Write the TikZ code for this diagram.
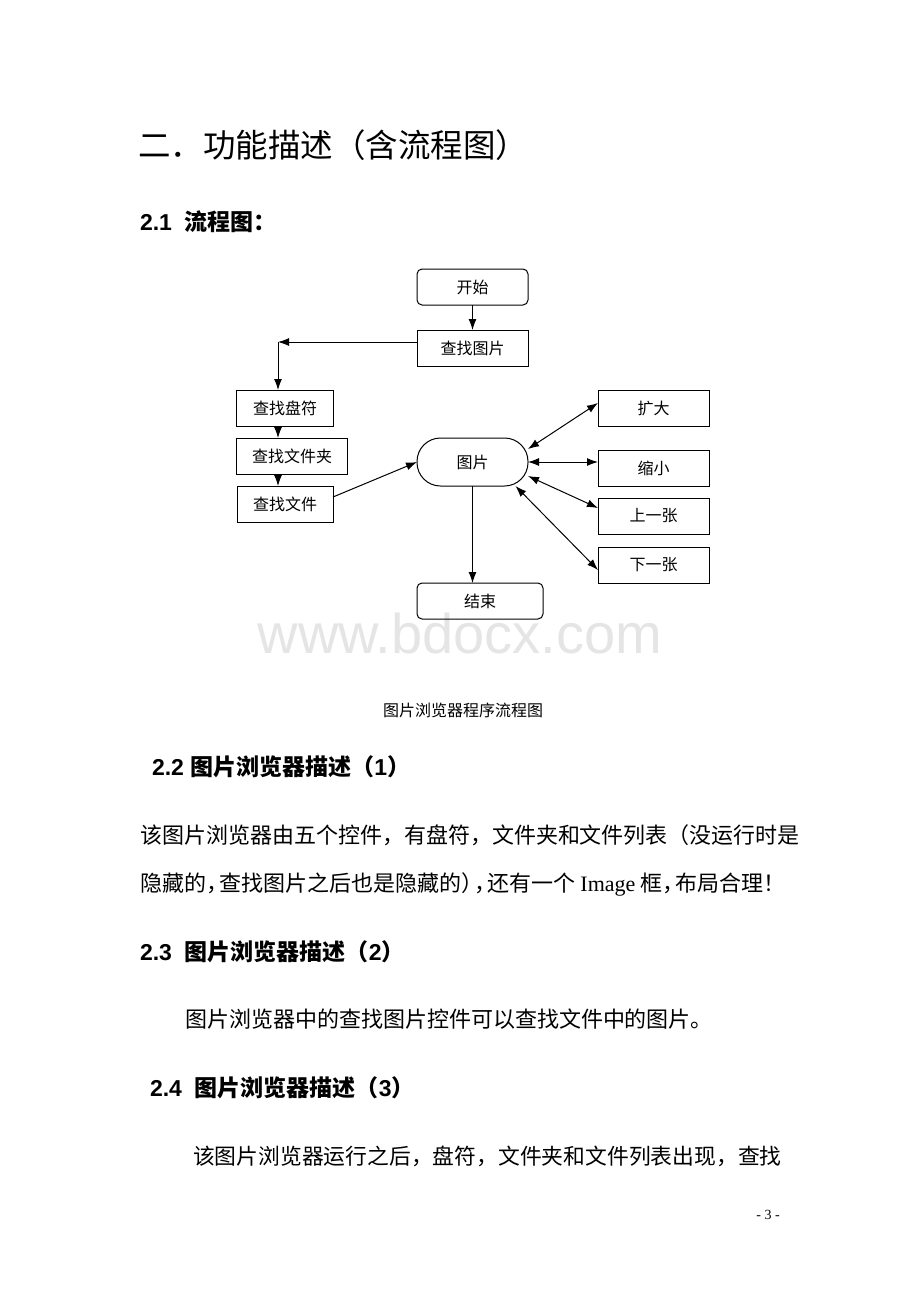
\documentclass[tikz,border=0pt]{standalone}
\usepackage{fontspec}
\setmainfont{Liberation Serif}
\setsansfont{Liberation Sans}
\newfontfamily\cjk{Noto Sans CJK SC}
\usetikzlibrary{arrows.meta}

\newcommand\fs[1]{\fontsize{#1}{#1}\selectfont}

\begin{document}
\begin{tikzpicture}[x=1pt, y=-1pt,
    every node/.style={inner sep=0pt, outer sep=0pt},
    blk/.style={draw, line width=1pt, minimum height=36pt, font=\cjk\fs{16pt}},
    rblk/.style={blk, rounded corners=5pt},
    arr/.style={line width=1pt, -{Latex[length=11pt,width=8pt]}},
    darr/.style={line width=1pt, {Latex[length=11pt,width=8pt]}-{Latex[length=11pt,width=8pt]}},
    txt/.style={anchor=west, font=\cjk\fs{22pt}},
    hd/.style={anchor=west, font=\bfseries\fs{23pt}}]
	\useasboundingbox (0,0) rectangle (920,1302);

	% watermark
	\node[font=\sffamily\fs{56pt}, text=black!10] (mark) at (460,633) {www.bdocx.com};

	\node[anchor=west, font=\cjk\fs{32.5pt}] (title) at (138,145) {二．功能描述（含流程图）};
	\node[hd] (h1) at (140,222) {\sffamily 2.1\ \ \cjk 流程图：};

	% flow chart
	\node[rblk, minimum width=111pt] (start) at (472.5,287) {开始};
	\node[blk, minimum width=111pt] (find) at (472.5,348) {查找图片};

	\node[blk, minimum width=97pt] (drive) at (285,408) {查找盘符};
	\node[blk, minimum width=111pt] (folder) at (292,456) {查找文件夹};
	\node[blk, minimum width=96pt] (file) at (285,504) {查找文件};

	\node[blk, rounded corners=23.5pt, minimum width=111pt, minimum height=48pt] (pic) at (472.5,462) {图片};

	\node[blk, minimum width=111pt] (zoomin) at (653.5,408) {扩大};
	\node[blk, minimum width=111pt] (zoomout) at (653.5,468) {缩小};
	\node[blk, minimum width=111pt] (prev) at (653.5,516) {上一张};
	\node[blk, minimum width=111pt] (next) at (653.5,565) {下一张};

	\node[rblk, minimum width=126pt] (stop) at (480,601) {结束};

	\draw[arr] (start) -- (find);
	\coordinate (bend) at (278,342);
	\draw[arr] ([yshift=6pt]find.west) -- (bend);
	\draw[arr] (bend) -- (bend |- drive.north);
	\draw[arr] (bend |- drive.south) -- (bend |- folder.north);
	\draw[arr] (bend |- folder.south) -- (bend |- file.north);
	\draw[arr] ([yshift=7pt]file.east) -- (pic.west);
	\draw[arr] (pic.south) -- (pic.south |- stop.north);

	\draw[darr] ([yshift=13pt]pic.east) -- ([yshift=5pt]zoomin.west);
	\draw[darr] (pic.east) -- (pic.east -| zoomout.west);
	\draw[darr] ([yshift=-14pt]pic.east) -- ([yshift=8pt]prev.west);
	\draw[darr] ([xshift=43pt]pic.south) -- ([yshift=-5pt]next.west);

	\node[font=\cjk\fs{16pt}] (cap) at (463,710) {图片浏览器程序流程图};

	% text
	\node[hd] (h2) at (152,767) {\sffamily 2.2 \cjk 图片浏览器描述（\sffamily 1\cjk ）};
	\node[txt] (p1) at (140,835) {该图片浏览器由五个控件，有盘符，文件夹和文件列表（没运行时是};
	\node[txt] (p2) at (140,884) {隐藏的，\kern-9pt 查找图片之后也是隐藏的）\kern-9pt ，\kern-9pt 还有一个\rmfamily\ Image \cjk 框，\kern-9pt 布局合理！};

	\node[hd] (h3) at (140,952) {\sffamily 2.3\ \ \cjk 图片浏览器描述（\sffamily 2\cjk ）};
	\node[txt] (p3) at (185,1019) {图片浏览器中的查找图片控件可以查找文件中的图片。};

	\node[hd] (h4) at (150,1088) {\sffamily 2.4\ \ \cjk 图片浏览器描述（\sffamily 3\cjk ）};
	\node[txt, font=\cjk\fs{21.8pt}] (p4) at (193,1156) {该图片浏览器运行之后，盘符，文件夹和文件列表出现，查找};

	\node[font=\fs{14pt}] (pg) at (768,1215) {- 3 -};
\end{tikzpicture}
\end{document}
